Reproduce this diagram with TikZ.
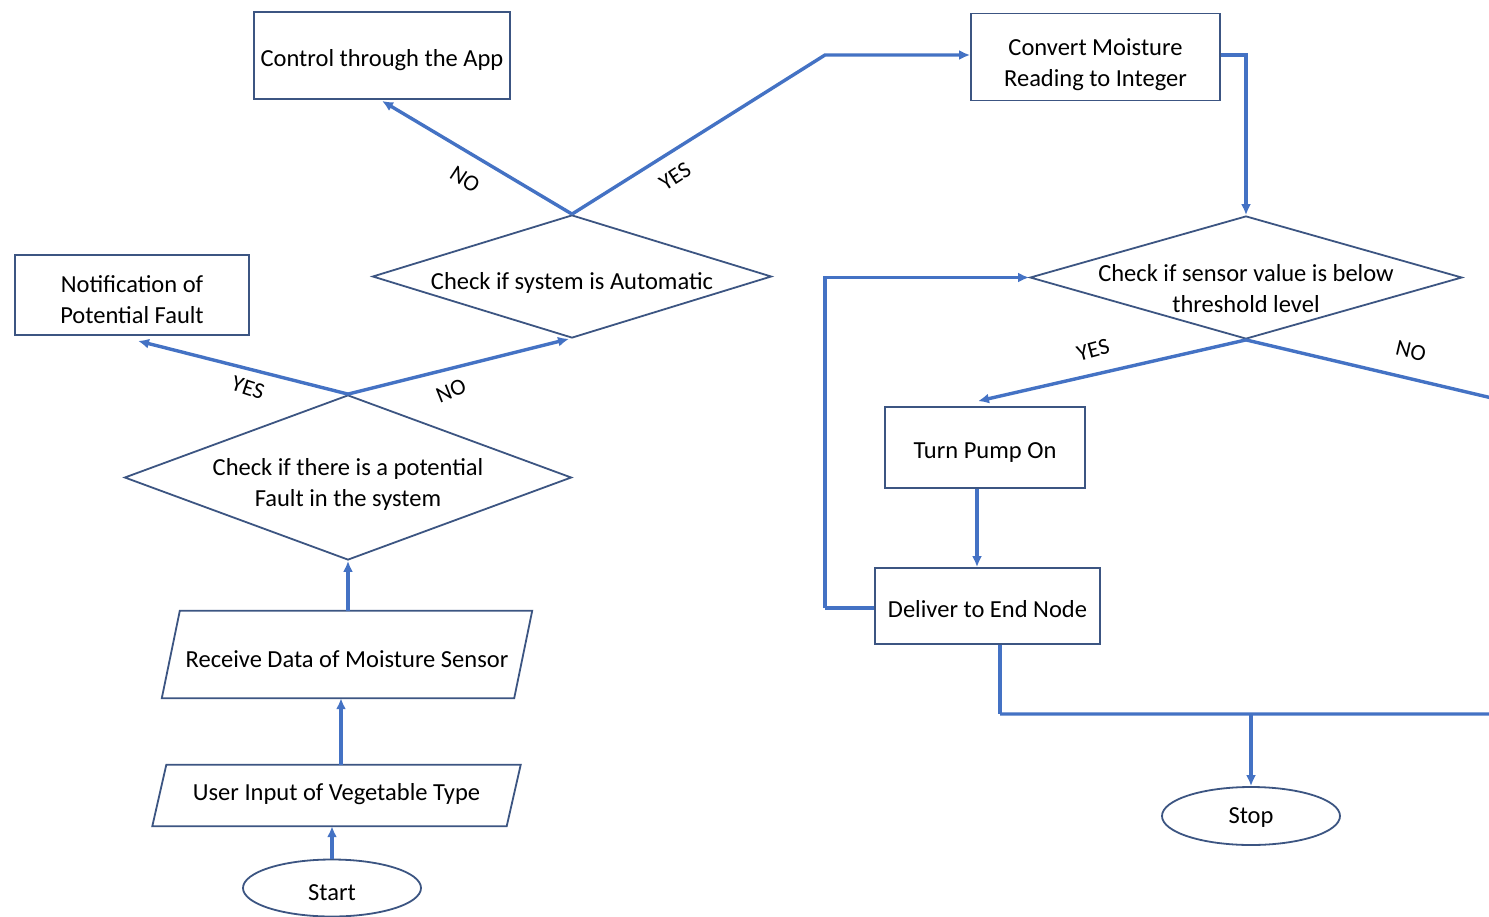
\documentclass[tikz,border=0pt]{standalone}
\usepackage{fontspec}
\setmainfont{Carlito}
\usetikzlibrary{shapes.geometric,arrows.meta,calc}
\definecolor{conn}{RGB}{68,114,196}
\definecolor{bord}{RGB}{60,85,130}
\tikzset{
  x=1pt,y=-1pt,
  every node/.style={font=\fontsize{24.5}{31}\selectfont, text=black},
  every label/.style={align=center},
  box/.style={draw=bord, line width=1.8pt, rectangle, minimum width=#1, inner sep=0pt},
  decis/.style={draw=bord, line width=1.8pt, diamond, inner sep=0pt},
  term/.style={draw=bord, line width=1.8pt, ellipse, inner sep=0pt},
  iotext/.style={inner sep=0pt},
  ioborder/.style={draw=bord, line width=1.8pt, line join=miter},
  arr/.style={draw=conn, line width=3.4pt, -{Latex[length=11pt,width=10pt]}},
  ln/.style={draw=conn, line width=3.4pt},
  lbl/.style={font=\fontsize{23}{26}\selectfont},
}
\begin{document}
\begin{tikzpicture}
\useasboundingbox (0,0) rectangle (1489,916);
\clip (0,0) rectangle (1489,916);
\fill[white] (0,0) rectangle (1489,916);

% nodes
\node[box=256pt, minimum height=87pt,
  label={[yshift=-5pt]center:Control through the App}] (app) at (382,55.5) {};
\node[box=249pt, minimum height=87pt,
  label={[yshift=-8pt]center:Convert Moisture\\Reading to Integer}] (conv) at (1095.5,57) {};
\node[box=234pt, minimum height=80pt,
  label={[yshift=-5pt]center:Notification of\\Potential Fault}] (notif) at (132,295) {};
\node[decis, minimum width=399pt, minimum height=123pt,
  label={[yshift=-6pt]center:Check if system is Automatic}] (auto) at (572,276.5) {};
\node[decis, minimum width=432pt, minimum height=123pt,
  label={[yshift=-11pt]center:Check if sensor value is below\\threshold level}] (sens) at (1246,277.5) {};
\node[decis, minimum width=447pt, minimum height=165pt,
  label={[yshift=-7pt]center:Check if there is a potential\\Fault in the system}] (fault) at (348,477.5) {};
\node[box=200pt, minimum height=81pt,
  label={[yshift=-5pt]center:Turn Pump On}] (pump) at (985,447.5) {};
\node[box=225pt, minimum height=76pt,
  label={[yshift=-3pt]center:Deliver to End Node}] (deliv) at (987.5,606) {};
\node[iotext, minimum width=352pt, minimum height=87pt,
  label={[yshift=-5pt]center:Receive Data of Moisture Sensor}] (recv) at (347,654.5) {};
\draw[ioborder] ([xshift=9pt]recv.north west) -- ([xshift=9pt]recv.north east)
  -- ([xshift=-9pt]recv.south east) -- ([xshift=-9pt]recv.south west) -- cycle;
\node[iotext, minimum width=354pt, minimum height=61pt,
  label={[yshift=1pt]center:User Input of Vegetable Type}] (user) at (336.5,795.5) {};
\draw[ioborder] ([xshift=7pt]user.north west) -- ([xshift=7pt]user.north east)
  -- ([xshift=-7pt]user.south east) -- ([xshift=-7pt]user.south west) -- cycle;
\node[term, minimum width=178pt, minimum height=57pt,
  label={[yshift=-5pt]center:Start}] (start) at (332,888) {};
\node[term, minimum width=178pt, minimum height=58pt,
  label={[yshift=-2pt]center:Stop}] (stop) at (1251,816) {};

% helper coordinates
\coordinate (bend) at (825,55);
\coordinate (offr) at (1530,407);
\coordinate (offb) at (1530,714);
\coordinate (jn) at (1000,714);
\coordinate (loopb) at (825,608);

% connectors
\draw[arr] (start.north) -- (start.north |- user.south);
\draw[arr] ([xshift=4.5pt]user.north) -- ([xshift=4.5pt]user.north |- recv.south);
\draw[arr] (fault.south |- recv.north) -- (fault.south);
\draw[arr] (fault.north) -- ([xshift=6pt,yshift=-5pt]notif.south);
\node[lbl, rotate=-18] (yesf) at (248,388) {YES};
\draw[arr] (fault.north) -- ([xshift=-3pt]auto.south);
\node[lbl, rotate=22] (nof) at (451,391) {NO};
\draw[arr] (auto.north) -- ([yshift=-1pt]app.south);
\node[lbl, rotate=-33] (noa) at (465,179) {NO};
\draw[arr] (auto.north) -- (bend) -- (conv.west |- bend);
\node[lbl, rotate=33] (yesa) at (675,176) {YES};
\draw[arr] (conv.east |- bend) -| (sens.north);
\draw[arr] (sens.south) -- ([xshift=-7pt,yshift=5pt]pump.north);
\node[lbl, rotate=15] (yesb) at (1093,350) {YES};
\draw[ln] (sens.south) -- (offr) -- (offb) -- (jn);
\node[lbl, rotate=-13] (nob) at (1411,351) {NO};
\draw[arr] ([xshift=-8pt]pump.south) -- ([xshift=-8pt]pump.south |- deliv.north);
\draw[ln] (deliv.west |- loopb) -- (loopb);
\draw[arr] (loopb) |- (sens.west);
\draw[ln] (jn |- deliv.south) -- (jn);
\draw[arr] (stop.north |- jn) -- (stop.north);
\end{tikzpicture}
\end{document}
